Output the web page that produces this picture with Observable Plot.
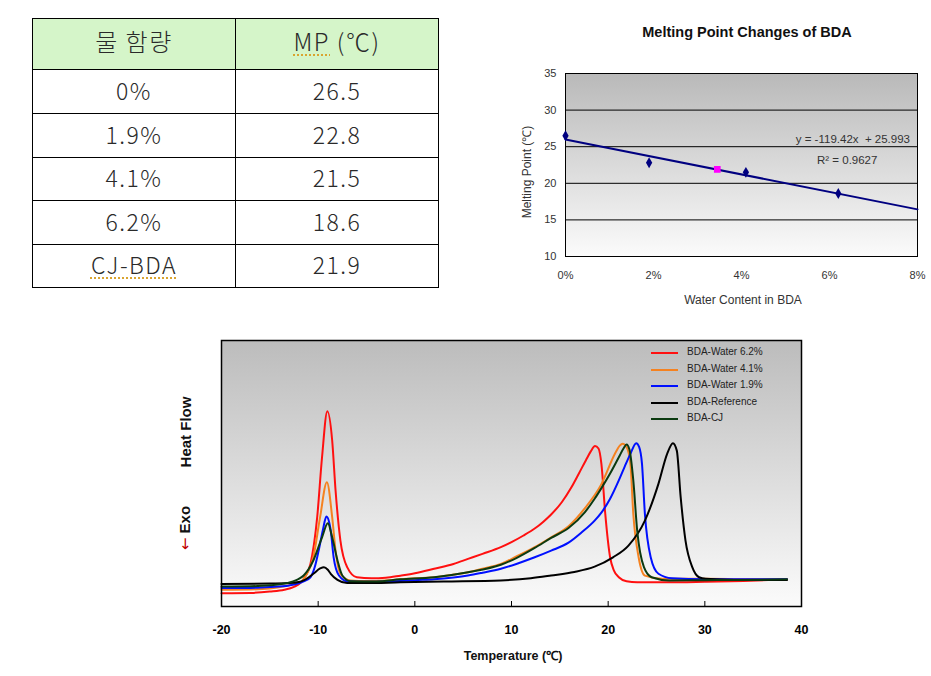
<!DOCTYPE html>
<html><head><meta charset="utf-8">
<script src="https://cdn.jsdelivr.net/npm/d3@7"></script>
<script src="https://cdn.jsdelivr.net/npm/@observablehq/plot@0.6"></script>
<style>
body{margin:0;background:#fff;}
#page{position:relative;width:931px;height:676px;overflow:hidden;background:#fff;font-family:"Liberation Sans",Arial,sans-serif;}
.lbl{position:absolute;white-space:nowrap;line-height:1;}
table.mp{position:absolute;left:32px;top:18px;width:407px;border-collapse:collapse;font-family:"Noto Sans CJK KR",sans-serif;font-weight:300;font-size:23px;color:#2a2a2a;table-layout:fixed;}
table.mp td{border:1px solid #000;text-align:center;padding:0 0 3px 0;letter-spacing:1.5px;line-height:1;}
table.mp tr.hd td{background:#d5f5c9;font-size:24px;padding-bottom:6px;}
.spell{text-decoration:underline dotted #d9a430;text-decoration-thickness:2px;text-underline-offset:3px;}
.chart{position:absolute;}
.leg{position:absolute;font-size:10px;color:#222;white-space:nowrap;line-height:1;}
.leg i{position:absolute;left:0;top:5px;width:27px;height:2px;}
.leg span{position:absolute;left:36px;top:0;}
</style>
</head><body><div id="page"></div>
<script>
// ---------- table data ----------
const tableHeaders = ["물 함량", "MP (℃)"];
const waterLabels = ["0%", "1.9%", "4.1%", "6.2%", "CJ-BDA"];
const mpValues = [26.5, 22.8, 21.5, 18.6, 21.9];

// ---------- melting point chart data ----------
const mpTitle = "Melting Point Changes of BDA";
const waterFraction = [0, 0.019, 0.041, 0.062];
const meltingPoint = [26.5, 22.8, 21.5, 18.6];
const cjFraction = [0.0345];
const cjMelting = [21.9];
const trendFraction = [0, 0.08];
const trendMelting = [25.993, 16.44];
const pctTicks = [0, 0.02, 0.04, 0.06, 0.08];
const mpTicks = [10, 15, 20, 25, 30, 35];
const mpGrid = [15, 20, 25, 30];
const equationText = "y = -119.42x  + 25.993";
const r2Text = "R² = 0.9627";

// ---------- DSC chart data (heat flow, arbitrary units) ----------
const tempTicks = [-20, -10, 0, 10, 20, 30, 40];
const seriesNames = ["BDA-Water 6.2%", "BDA-Water 4.1%", "BDA-Water 1.9%", "BDA-Reference", "BDA-CJ"];
const seriesColors = ["#ff1010", "#f58220", "#0010ff", "#000000", "#0b3a10"];

const t62 = [-20,-17,-15,-13.5,-12.5,-11.85,-11.3,-10.8,-10.1,-9.6,-9.05,-8.55,-8.2,-7.7,-7.0,-6.0,-4.5,-3,-1.5,0,2,4,5.5,7,8.9,10,11.2,12.4,13.3,14.1,15.2,16.2,17.0,17.7,18.2,18.64,19.0,19.3,19.7,20.2,20.6,21.1,21.9,23,26,30,34,38.5];
const hf62 = [5.0,5.1,5.6,6.3,7.4,8.8,11.5,16.0,33.6,56.1,73.4,62.4,43.6,24.8,14.8,11.0,10.6,10.8,11.6,12.5,14.2,16.0,17.9,19.8,22.3,24.2,26.6,29.3,31.9,34.6,39.2,44.8,50.2,55.0,58.3,60.3,59.4,53.6,34.8,18.5,13.5,11.0,9.5,9.1,9.1,9.3,9.6,10.2];

const t41 = [-20,-17,-15,-13.5,-12.5,-11.85,-11.3,-10.5,-9.8,-9.1,-8.55,-8.2,-7.7,-6.65,-5,-3,-1.5,0,2,4,5.5,7,8.9,10.5,12.4,14.1,15.9,17.6,19.3,20.7,21.2,21.5,21.9,22.3,22.6,23.15,23.8,25.6,30,34,38.5];
const hf41 = [6.3,6.4,6.8,7.6,8.4,9.1,11.5,18.5,33.6,46.7,33.6,21.0,12.3,9.8,9.6,9.8,10.2,10.6,11.0,12.0,12.9,14.2,16.0,18.8,22.3,26.0,30.2,37.0,46.0,57.4,60.5,61.2,60.0,53.6,34.8,18.5,11.6,10.4,10.4,10.3,10.2];

const t19 = [-20,-17,-15,-13,-12.2,-11.5,-10.8,-10.3,-9.95,-9.5,-9.15,-8.85,-8.7,-8.4,-7.85,-7,-5,-3,-1.5,0,2,4,5.5,7,8.9,10.5,12.4,14.1,15.9,17.3,18.6,19.3,20.2,21.1,21.7,22.3,22.9,23.2,23.5,23.8,24.4,25.2,26.6,30,34,38.5];
const hf19 = [7.0,7.0,7.3,7.9,8.5,9.5,11.0,15.5,21.0,29.0,33.8,31.5,28.6,18.5,11.65,9.5,9.3,9.4,9.6,9.9,10.2,10.9,11.65,12.7,14.2,16.0,18.5,21.0,24.0,28.0,32.3,35.3,40.5,47.4,52.5,57.4,61.4,60.0,53.6,34.8,18.5,12.3,10.6,10.2,10.2,10.2];

const tRef = [-20,-15,-13,-12,-11.5,-10.5,-9.8,-9.4,-9.0,-8.7,-8.0,-7.0,-5,-1.5,3,8.9,12,14.1,16.5,18.6,20.5,22.1,23.8,25.2,26.1,26.7,27.1,27.5,28,28.7,29.4,30.1,33,38.5];
const hfRef = [8.5,8.6,8.8,9.2,9.8,12.3,14.3,14.8,13.8,12.3,10.0,8.8,8.8,9.1,9.4,9.8,10.6,11.65,13.0,15.0,18.5,22.9,32.3,46.1,57.4,61.4,58.6,41.1,24.8,14.8,11.0,10.4,10.0,10.0];

const tCJ = [-20,-17,-15,-13.2,-12.2,-11.5,-10.5,-9.6,-9.0,-8.55,-8.0,-7.5,-6.65,-4,-1.5,2,5.5,8.9,10.5,12.4,14.1,15.9,17.6,18.6,19.3,20.2,21.1,21.6,21.9,22.2,22.6,23.0,23.7,24.5,26.3,30,34,38.5];
const hfCJ = [7.5,7.6,8.0,8.8,10.0,11.65,17.3,26.0,31.3,26.0,17.3,11.65,9.5,9.4,10.2,11.0,12.9,15.7,18.2,22.0,25.8,29.5,35.5,40.5,44.5,50.0,56.1,59.5,60.9,59.0,47.4,28.6,14.8,11.0,9.8,9.9,10.0,10.2];

const page = document.getElementById("page");

function addLabel(text, cx, cy, css, rotate) {
  const d = document.createElement("div");
  d.className = "lbl";
  d.textContent = text;
  Object.assign(d.style, css || {});
  d.style.left = cx + "px";
  d.style.top = cy + "px";
  d.style.transform = "translate(-50%,-50%)" + (rotate ? " rotate(" + rotate + "deg)" : "");
  page.appendChild(d);
  return d;
}

// ---------- table ----------
const table = document.createElement("table");
table.className = "mp";
const rowHeights = [44, 40, 40, 39, 40, 39];
const hdr = document.createElement("tr");
hdr.className = "hd";
tableHeaders.forEach((h, i) => {
  const td = document.createElement("td");
  td.style.height = rowHeights[0] + "px";
  if (i === 1) {
    td.innerHTML = '<span class="spell">MP</span> (℃)';
  } else td.textContent = h;
  hdr.appendChild(td);
});
table.appendChild(hdr);
waterLabels.forEach((w, i) => {
  const tr = document.createElement("tr");
  const a = document.createElement("td");
  a.style.height = rowHeights[i + 1] + "px";
  if (w === "CJ-BDA") a.innerHTML = '<span class="spell">' + w + '</span>';
  else a.textContent = w;
  const b = document.createElement("td");
  b.textContent = mpValues[i].toFixed(1);
  tr.appendChild(a); tr.appendChild(b);
  table.appendChild(tr);
});
page.appendChild(table);

function gradientDefs(id, top, bottom) {
  return () => {
    const defs = d3.create("svg:defs");
    const g = defs.append("linearGradient").attr("id", id)
      .attr("x1", 0).attr("y1", 0).attr("x2", 0).attr("y2", 1);
    g.append("stop").attr("offset", "0%").attr("stop-color", top);
    g.append("stop").attr("offset", "100%").attr("stop-color", bottom);
    return defs.node();
  };
}

// ---------- melting point chart ----------
const sampleRows = waterFraction.map((x, i) => ({x, y: meltingPoint[i]}));
const cjRows = cjFraction.map((x, i) => ({x, y: cjMelting[i]}));
const trendRows = trendFraction.map((x, i) => ({x, y: trendMelting[i]}));

const topChart = Plot.plot({
  width: 420, height: 265,
  marginLeft: 55, marginRight: 13, marginTop: 23, marginBottom: 59,
  style: {background: "transparent", fontFamily: "'Liberation Sans', Arial, sans-serif", fontSize: "11px", color: "#333"},
  x: {domain: [0, 0.08], ticks: pctTicks, tickFormat: d3.format(".0%"), tickSize: 0, tickPadding: 15, label: null},
  y: {domain: [10, 35], ticks: mpTicks, tickSize: 0, tickPadding: 9, label: null},
  marks: [
    gradientDefs("gradTop", "#b9b9b9", "#fbfbfb"),
    Plot.frame({fill: "url(#gradTop)", stroke: "none"}),
    Plot.ruleY(mpGrid, {stroke: "#000", strokeWidth: 1}),
    Plot.frame({stroke: "#000", fill: "none"}),
    Plot.line(trendRows, {x: "x", y: "y", stroke: "#000080", strokeWidth: 2}),
    Plot.dot(sampleRows, {x: "x", y: "y", symbol: "diamond", fill: "#000080", stroke: "none", r: 3.3}),
    Plot.dot(cjRows, {x: "x", y: "y", symbol: "square", fill: "#ff00ff", stroke: "none", r: 3.8})
  ]
});
const topWrap = document.createElement("div");
topWrap.className = "chart";
topWrap.style.left = "510px"; topWrap.style.top = "50px";
topWrap.appendChild(topChart);
page.appendChild(topWrap);

addLabel(mpTitle, 747, 32, {fontWeight: "bold", fontSize: "14.5px", color: "#111"});
addLabel("Melting Point (℃)", 527, 172, {fontSize: "12px", color: "#333"}, -90);
addLabel("Water Content in BDA", 743, 300, {fontSize: "12px", color: "#333"});
const eq = addLabel(equationText, 0, 140, {fontSize: "11.5px", color: "#333", whiteSpace: "pre"});
eq.style.left = "910px"; eq.style.transform = "translate(-100%,-50%)";
const r2 = addLabel(r2Text, 0, 161, {fontSize: "11.5px", color: "#333"});
r2.style.left = "817px"; r2.style.transform = "translate(0,-50%)";

// ---------- DSC chart ----------
const seriesT = [t62, t41, t19, tRef, tCJ];
const seriesHF = [hf62, hf41, hf19, hfRef, hfCJ];
const lineMarks = seriesNames.map((name, k) => {
  const rows = seriesT[k].map((t, i) => ({t, hf: seriesHF[k][i]}));
  return Plot.line(rows, {x: "t", y: "hf", stroke: seriesColors[k], strokeWidth: 2, curve: "monotone-x"});
});

const bottomChart = Plot.plot({
  width: 640, height: 340,
  marginLeft: 51, marginRight: 9, marginTop: 10, marginBottom: 64,
  style: {background: "transparent", fontFamily: "'Liberation Sans', Arial, sans-serif", fontSize: "12.5px", fontWeight: "bold", color: "#000"},
  x: {domain: [-20, 40], ticks: tempTicks, tickFormat: d => String(d), tickSize: 0, tickPadding: 19, label: null},
  y: {domain: [0, 100], axis: null},
  marks: [
    gradientDefs("gradBottom", "#bcbcbc", "#fbfbfb"),
    Plot.frame({fill: "url(#gradBottom)", stroke: "none"}),
    ...lineMarks,
    Plot.ruleX(tempTicks, {insetTop: 261, stroke: "#000"}),
    Plot.frame({stroke: "#000", fill: "none", strokeWidth: 1.5})
  ]
});
const botWrap = document.createElement("div");
botWrap.className = "chart";
botWrap.style.left = "170px"; botWrap.style.top = "330px";
botWrap.appendChild(bottomChart);
page.appendChild(botWrap);

addLabel("Temperature (℃)", 513, 656, {fontWeight: "bold", fontSize: "12.5px", color: "#111"});
addLabel("Heat Flow", 185, 432, {fontWeight: "bold", fontSize: "15px", color: "#111"}, -90);
const exo = addLabel("", 185, 528, {fontWeight: "bold", fontSize: "15px", color: "#111"}, -90);
exo.innerHTML = '<span style="color:#c00000;font-weight:normal;font-family:\'DejaVu Sans\'">←</span> Exo';

// legend
seriesNames.forEach((name, k) => {
  const d = document.createElement("div");
  d.className = "leg";
  d.style.left = "651px";
  d.style.top = (347 + k * 16.5) + "px";
  d.innerHTML = '<i style="background:' + seriesColors[k] + '"></i><span>' + name + '</span>';
  page.appendChild(d);
});
</script>
</body></html>
